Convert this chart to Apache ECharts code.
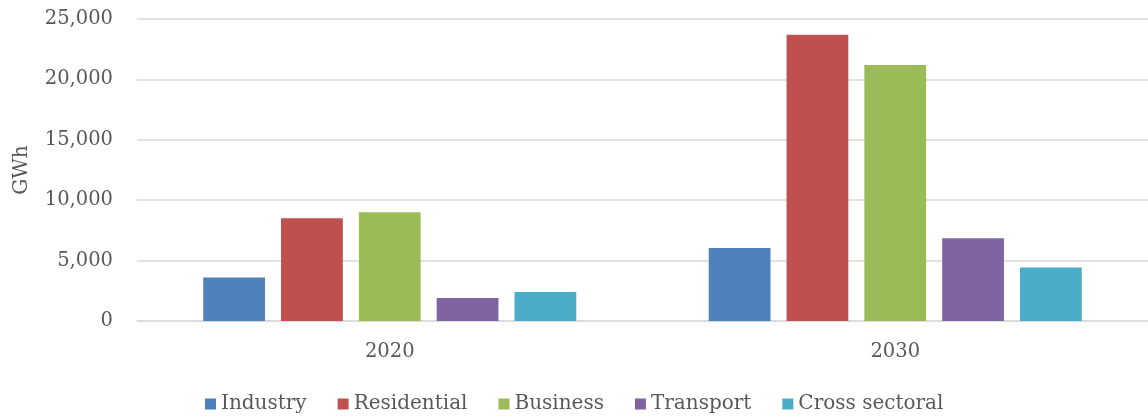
<!DOCTYPE html>
<html><head><meta charset="utf-8">
<script src="https://cdn.jsdelivr.net/npm/echarts@6/dist/echarts.min.js"></script>
<style>html,body{margin:0;padding:0;background:#fff}#c{width:1148px;height:419px}</style>
</head><body><div id="c"></div>
<script>
const categories = ['2020', '2030'];
const seriesNames = ['Industry', 'Residential', 'Business', 'Transport', 'Cross sectoral'];
const industry = [3600, 6050];
const residential = [8500, 23700];
const business = [9000, 21200];
const transport = [1900, 6850];
const crossSectoral = [2400, 4420];
const colors = ['#4F81BD', '#C0504D', '#9BBB59', '#8064A2', '#4BACC6'];
const values = [industry, residential, business, transport, crossSectoral];
const font = 'DejaVu Serif';
const chart = echarts.init(document.getElementById('c'));
chart.setOption({
  animation: false,
  textStyle: { fontFamily: font },
  grid: { left: 137, right: -3, top: 19, bottom: 98 },
  legend: {
    bottom: 0, left: 200, itemWidth: 11, itemHeight: 11, itemGap: 31, icon: 'rect',
    textStyle: { fontFamily: font, fontSize: 20, color: '#595959' },
    data: seriesNames
  },
  xAxis: {
    type: 'category', data: categories,
    axisLine: { lineStyle: { color: '#D9D9D9', width: 1.5 } },
    axisTick: { show: false },
    axisLabel: { fontFamily: font, fontSize: 19.5, color: '#595959', margin: 21 }
  },
  yAxis: {
    type: 'value', min: 0, max: 25000, interval: 5000,
    name: 'GWh', nameLocation: 'middle', nameGap: 105, nameRotate: 90,
    nameTextStyle: { fontFamily: font, fontSize: 20, color: '#595959' },
    axisLine: { show: false }, axisTick: { show: false },
    splitLine: { lineStyle: { color: '#D9D9D9', width: 1.5 } },
    axisLabel: { fontFamily: font, fontSize: 19.5, color: '#595959', margin: 24,
      formatter: v => v.toLocaleString('en-US') }
  },
  series: seriesNames.map((n, i) => ({
    name: n, type: 'bar', data: values[i],
    itemStyle: { color: colors[i] },
    barGap: '26%', barCategoryGap: '26.2%'
  }))
});
</script></body></html>
